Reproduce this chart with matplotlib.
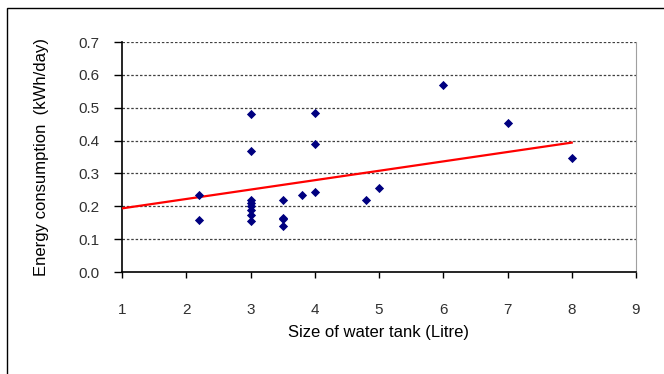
import matplotlib.pyplot as plt
import numpy as np
from matplotlib.patches import Rectangle

#     *****     data     *****
tank_size = [2.2, 2.2, 3, 3, 3, 3, 3, 3, 3, 3, 3.5, 3.5, 3.5, 3.5,
             3.8, 4, 4, 4, 4.8, 5, 6, 7, 8]
energy = [0.233, 0.157, 0.482, 0.368, 0.218, 0.210, 0.200, 0.190, 0.173, 0.155,
          0.218, 0.165, 0.160, 0.139, 0.233, 0.485, 0.391, 0.243, 0.218, 0.257,
          0.570, 0.452, 0.348]
# trend line as drawn in the source chart
trend_x = [1, 8]
trend_slope = 0.0286
trend_intercept = 0.165
x_ticks = [1, 2, 3, 4, 5, 6, 7, 8, 9]
y_ticks = [0.0, 0.1, 0.2, 0.3, 0.4, 0.5, 0.6, 0.7]

plt.rcParams['font.family'] = ['Liberation Sans', 'DejaVu Sans']

fig = plt.figure(figsize=(6.64, 3.74), dpi=100)
ax = fig.add_axes([122/664, 1-272/374, (636-122)/664, (272-42)/374])

# outer chart frame
fig.patches.append(Rectangle((7/664, -0.05), 1.0, 1.05-8.5/374, transform=fig.transFigure,
                             fill=False, edgecolor='black', linewidth=1.0, clip_on=False))

xt = np.array(trend_x)
ax.plot(xt, trend_slope*xt + trend_intercept, color='#ff0000', linewidth=1.6, zorder=3)

ax.scatter(tank_size, energy, marker='D', s=22, color='#000080', zorder=4, linewidths=0)

ax.set_xlim(1, 9)
ax.set_ylim(0, 0.7)
ax.set_xticks(x_ticks)
ax.set_yticks(y_ticks)
ax.set_yticklabels(['%.1f' % v for v in y_ticks])

for v in y_ticks[1:]:
    ax.axhline(v, color='#404040', linestyle=(0, (2, 1.5)), linewidth=0.9, zorder=1)

ax.spines['top'].set_visible(False)
ax.spines['right'].set_color('#a0a0a0')
ax.spines['left'].set_linewidth(1.2)
ax.spines['bottom'].set_linewidth(1.2)
ax.tick_params(axis='x', direction='out', length=4, width=1, pad=18, labelsize=11,
               colors='black', labelcolor='#303030')
ax.tick_params(axis='y', direction='out', length=6, width=1, pad=10, labelsize=11,
               labelcolor='#303030')

ax.set_xlabel('Size of water tank (Litre)', fontsize=12, labelpad=6)
ax.set_ylabel('Energy consumption  (kWh/day)', fontsize=12, labelpad=21)

fig.savefig('out.png', dpi=100)
